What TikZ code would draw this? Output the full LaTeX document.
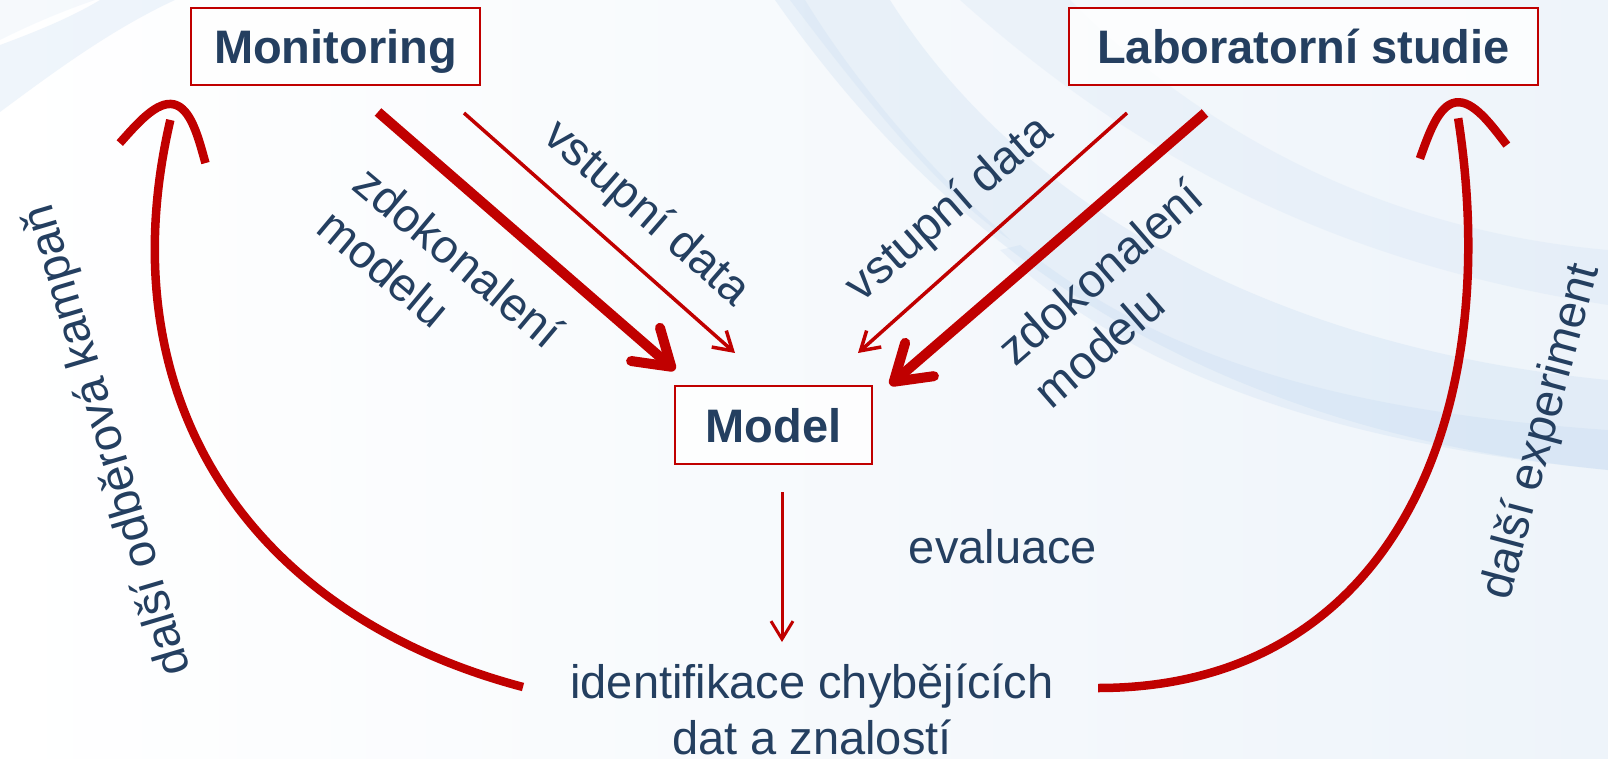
\documentclass[tikz,border=0pt]{standalone}
\usepackage{fontspec}
\setmainfont{Liberation Sans}
\usetikzlibrary{arrows.meta}
\definecolor{navy}{HTML}{243F60}
\definecolor{dred}{HTML}{C00000}
\definecolor{swoosh}{HTML}{B8D2EE}
\definecolor{bgright}{HTML}{EEF4FA}
\pgfdeclarearrow{
  name = Arch,
  parameters = {\the\pgfarrowlength,\the\pgfarrowwidth},
  setup code = {
    \pgfarrowssettipend{4.5pt}
    \pgfarrowssetlineend{-16pt}
    \pgfarrowssetbackend{-\pgfarrowlength}
    \pgfarrowsupperhullpoint{-\pgfarrowlength}{.5\pgfarrowwidth}
    \pgfarrowsupperhullpoint{4.5pt}{0pt}
    \pgfarrowssave\pgfarrowlength
    \pgfarrowssave\pgfarrowwidth
  },
  drawing code = {
    \pgfsetdash{}{0pt}
    \pgfsetroundjoin
    \pgfsetbuttcap
    \pgfpathmoveto{\pgfqpoint{-\pgfarrowlength}{.5\pgfarrowwidth}}
    \pgfpathcurveto{\pgfqpoint{-.55\pgfarrowlength}{.36\pgfarrowwidth}}{\pgfqpoint{0pt}{.2\pgfarrowwidth}}{\pgfqpoint{0pt}{0pt}}
    \pgfpathcurveto{\pgfqpoint{0pt}{-.2\pgfarrowwidth}}{\pgfqpoint{-.55\pgfarrowlength}{-.36\pgfarrowwidth}}{\pgfqpoint{-\pgfarrowlength}{-.5\pgfarrowwidth}}
    \pgfusepathqstroke
  },
  defaults = {length=50pt, width=88pt}
}
\begin{document}
\begin{tikzpicture}[x=1pt,y=-1pt,
  box/.style={draw=dred, line width=1.8pt, fill=white, fill opacity=0.8, text opacity=1,
    text=navy, font=\fontsize{47}{56}\selectfont\bfseries, inner sep=0pt,
    text height=34pt, text depth=0pt},
  lbl/.style={text=navy, font=\fontsize{47}{56}\selectfont, inner sep=0pt},
  bigarrow/.style={draw=dred, line width=10pt, -{Straight Barb[length=34pt,width=44pt,round]}},
  smallarrow/.style={draw=dred, line width=3.5pt, -{Straight Barb[length=18pt,width=22pt]}},
  looparrow/.style={draw=dred, line width=8.5pt, -{Arch[length=50pt,width=88pt]}},
  band/.style={fill=swoosh}
]
\useasboundingbox (0,0) rectangle (1608,759);
% background
\shade[left color=white, right color=bgright] (0,0) rectangle (1608,759);
\fill[band, opacity=.22] (0,112) .. controls (50,75) and (110,30) .. (175,0) -- (100,0) .. controls (70,18) and (35,32) .. (0,45) -- cycle;
\fill[band, opacity=.12] (0,40) .. controls (30,25) and (60,12) .. (95,0) -- (0,0) -- cycle;
\fill[band, opacity=.22] (775,0) .. controls (950,250) and (1200,430) .. (1608,470) -- (1608,380) .. controls (1250,345) and (1010,190) .. (890,0) -- cycle;
\fill[band, opacity=.20] (1608,470) .. controls (1300,440) and (1120,360) .. (1000,250) -- (1020,245) .. controls (1150,350) and (1320,410) .. (1608,430) -- cycle;
\fill[band, opacity=.18] (790,0) .. controls (880,120) and (950,200) .. (1010,240) -- (1000,230) .. controls (940,180) and (860,90) .. (805,0) -- cycle;
\fill[band, opacity=.15] (960,0) .. controls (1150,170) and (1350,265) .. (1608,305) -- (1608,250) .. controls (1380,230) and (1200,130) .. (1070,0) -- cycle;
% nodes
\node[box, minimum width=289pt, minimum height=77pt] (mon) at (335.5,46.5) {Monitoring};
\node[box, minimum width=469pt, minimum height=77pt] (lab) at (1303.5,46.5) {Laboratorní studie};
\node[box, minimum width=197pt, minimum height=78pt] (model) at (773.5,425) {Model};
\node[lbl, anchor=base] (eval) at (1003,563) {evaluace};
\node[lbl, align=center, anchor=base] (ident) at (812,754) {identifikace chybějících\\dat a znalostí};
\node[lbl, align=left, rotate=-40] (zl) at (441,278) {zdokonalení\\modelu};
\node[lbl, rotate=-41] (vl) at (646,214) {vstupní data};
\node[lbl, rotate=41] (vr) at (950,210) {vstupní data};
\node[lbl, align=left, rotate=41] (zr) at (1118,293) {zdokonalení\\modelu};
\node[lbl, rotate=106.5] (dk) at (109,440) {další odběrová kampaň};
\node[lbl, rotate=75] (de) at (1542,432) {další experiment};
% connector ends
\coordinate (m1s) at (378,112); \coordinate (m1e) at (675,370);
\coordinate (m2s) at (464,113); \coordinate (m2e) at (735,353);
\coordinate (l2s) at (1127,113); \coordinate (l2e) at (858,353);
\coordinate (l1s) at (1205,113); \coordinate (l1e) at (890,385);
\coordinate (es) at (782,492); \coordinate (ee) at (782,642);
\coordinate (cls) at (523,687); \coordinate (cle) at (175,100);
\coordinate (crs) at (1098,688); \coordinate (cre) at (1455,98);
% connectors
\draw[bigarrow] (m1s) -- (m1e);
\draw[smallarrow] (m2s) -- (m2e);
\draw[smallarrow] (l2s) -- (l2e);
\draw[bigarrow] (l1s) -- (l1e);
\draw[smallarrow, line width=3pt] (es) -- (ee);
\draw[looparrow] (cls) .. controls (250,615) and (105,400) .. (cle);
\draw[looparrow] (crs) .. controls (1390,688) and (1505,420) .. (cre);
\end{tikzpicture}
\end{document}
